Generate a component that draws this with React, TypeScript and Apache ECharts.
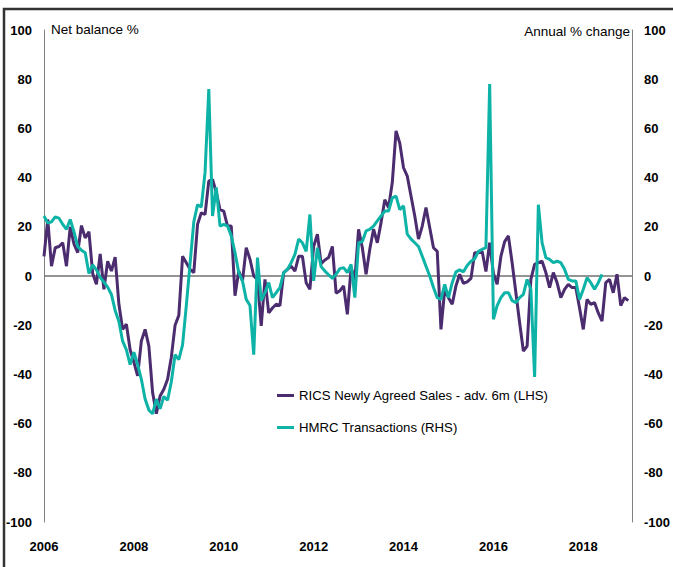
import React, { useEffect, useRef } from 'react';
import * as echarts from 'echarts';

// Monthly observations, index 0 = Jan 2006
const startYear = 2006;
const xTickLabels = ['2006', '2008', '2010', '2012', '2014', '2016', '2018'];
const seriesNames = ['RICS Newly Agreed Sales - adv. 6m (LHS)', 'HMRC Transactions (RHS)'];

const ricsSales = [
  8, 23, 4, 11.5, 12, 13.5, 4, 20, 13, 9.5, 20.5, 15.5,
  18, 1, -3.4, 9, -5.4, 6, 2, 7.7, -11.5, -21.7, -19.6, -30,
  -35, -40.6, -26.4, -21.7, -28.5, -47.4, -56, -48.8, -46, -42, -33, -20,
  -16, 8, 5.4, 2.7, 1.4, 21, 25.7, 25, 38.6, 39.3, 34, 27,
  26.4, 20.3, 20.3, -8, 2, -2, 11.5, 6.8, 0, -1.4, -20.3, -1.4,
  -15, -13, -11.5, -12, 1.4, 2.7, 4, 2, 8, 8, -2.7, -5.4,
  12, 17, 5, 6.5, 7.5, 12, -7, -6, -4, -15.6, 3.4, -1.4,
  19, 11.5, 0.7, 11, 19, 13.5, 21.7, 31, 27.8, 38, 59, 54,
  44, 40.6, 32.5, 24.4, 15, 20.3, 27.8, 19.6, 11.5, 10, -21.7, -5.4,
  -8.8, -11.5, -4, 0.7, -3, -2.4, -1, 9.5, 9.5, 10, 1.8, 13.5,
  1, -3.4, 8, 14, 16.3, 5.4, -6.8, -19, -30.5, -28.5, -1.4, 4.7,
  5.4, 6, 1.4, -4.7, 1.4, -2.7, -8.8, -5.4, -3.4, -4.7, -4.7, -13,
  -21.7, -9.5, -11.5, -10.8, -15, -18.3, -2.7, -1.4, -6.8, 0.7, -12, -8.8,
  -10,
];

const hmrcTransactions = [
  24.4, 21.5, 22, 24, 23.5, 21, 19, 23, 18, 12, 10.5, 9.5,
  1, 4.5, 2.5, -0.5, -2.5, -4.5, -7.5, -14, -18.5, -26.5, -30, -36,
  -31, -36, -42, -50, -54.5, -56, -50, -54, -49, -50.5, -43, -32,
  -34, -28, -12, 5, 22, 29, 28, 42, 76, 24.4, 36, 20.3,
  21, 20.3, 16.3, 9.5, 1.4, -2, -9.5, -12, -32, 7.5, -10, -6.8,
  -2.7, -8.8, -6.8, -4.7, 1.4, 2.7, 5.4, 8.8, 15, 13.5, 10, 25,
  -2, 11.5, 3.8, 2, 0.5, -1, 0.7, 3, 3.4, 1.4, 4.7, -8.8,
  13.5, 14, 18.3, 19, 20.3, 22.4, 24.4, 26.4, 26.4, 31.8, 32.5, 27,
  28.5, 17, 15, 13.5, 12, 8, 4, 0, -4.7, -8.8, -9.5, -3.4,
  -8.8, -2.7, 1.7, 2.5, 1.7, 4.3, 6, 7, 10, 10.8, 11.5, 78,
  -17.6, -12, -8.8, -6.8, -6.8, -10, -10.8, -8.8, -7.5, -1.4, -5.4, -41,
  29, 13.5, 7.5, 6.8, 5.4, 6, 5.4, 2.7, -1.4, -2, -2, -9.5,
  -5.4, -0.7, -2.7, -5.4, -2.7, 0.7,
];

const FONT = "'Liberation Sans', Arial, Helvetica, sans-serif";
const PURPLE = '#4B2C6F';
const TEAL = '#0DB3A6';

export default function App() {
  const ref = useRef<HTMLDivElement>(null);

  useEffect(() => {
    if (!ref.current) return;
    const chart = echarts.init(ref.current, undefined, { renderer: 'svg' });
    const toPairs = (arr: number[]) => arr.map((v, i) => [i, v]);
    const yAxisBase = {
      type: 'value' as const,
      min: -100,
      max: 100,
      interval: 20,
      axisLine: { show: true, lineStyle: { color: '#808080', width: 1 } },
      axisTick: { show: false },
      splitLine: { show: false },
    };
    const tickLabel = { margin: 12, fontSize: 13, fontWeight: 'bold' as const, color: '#000', fontFamily: FONT };
    chart.setOption({
      animation: false,
      backgroundColor: '#ffffff',
      textStyle: { fontFamily: FONT },
      grid: { left: 44, right: 37, top: 30, bottom: 45, containLabel: false },
      legend: {
        orient: 'vertical',
        left: 277,
        top: 389,
        padding: 0,
        icon: 'rect',
        itemWidth: 17,
        itemHeight: 3,
        itemGap: 19,
        textStyle: { fontSize: 13.2, color: '#000', fontFamily: FONT },
        data: seriesNames,
      },
      xAxis: {
        type: 'value',
        min: 0,
        max: 157,
        interval: 24,
        axisLine: { show: false },
        axisTick: { show: false },
        splitLine: { show: false },
        axisLabel: {
          ...tickLabel,
          margin: 18,
          formatter: (v: number) => (v % 24 === 0 ? xTickLabels[v / 24] ?? String(startYear + v / 12) : ''),
        },
      },
      yAxis: [
        { ...yAxisBase, position: 'left', axisLabel: tickLabel },
        { ...yAxisBase, position: 'right', axisLabel: tickLabel },
      ],
      series: [
        {
          name: seriesNames[0],
          type: 'line',
          yAxisIndex: 0,
          data: toPairs(ricsSales),
          showSymbol: false,
          symbol: 'none',
          lineStyle: { color: PURPLE, width: 3 },
          itemStyle: { color: PURPLE },
          markLine: {
            silent: true,
            symbol: 'none',
            label: { show: false },
            lineStyle: { color: '#707070', width: 1.5, type: 'solid' },
            data: [{ yAxis: 0 }],
            z: 1,
          },
          z: 2,
        },
        {
          name: seriesNames[1],
          type: 'line',
          yAxisIndex: 1,
          data: toPairs(hmrcTransactions),
          showSymbol: false,
          symbol: 'none',
          lineStyle: { color: TEAL, width: 3 },
          itemStyle: { color: TEAL },
          z: 3,
        },
      ],
      graphic: [
        {
          type: 'text',
          left: 51,
          top: 22,
          style: { text: 'Net balance %', fontSize: 13.5, fill: '#000', fontFamily: FONT },
        },
        {
          type: 'text',
          right: 43,
          top: 24,
          style: { text: 'Annual % change', fontSize: 13.5, fill: '#000', fontFamily: FONT },
        },
        {
          type: 'rect',
          shape: { x: 4, y: 9, width: 720, height: 620 },
          style: { fill: 'none', stroke: '#333333', lineWidth: 2.5 },
          silent: true,
        },
      ],
    });
    return () => chart.dispose();
  }, []);

  return (
    <div
      ref={ref}
      style={{ position: 'fixed', left: 0, top: 0, width: 673, height: 567, background: '#fff' }}
    />
  );
}
